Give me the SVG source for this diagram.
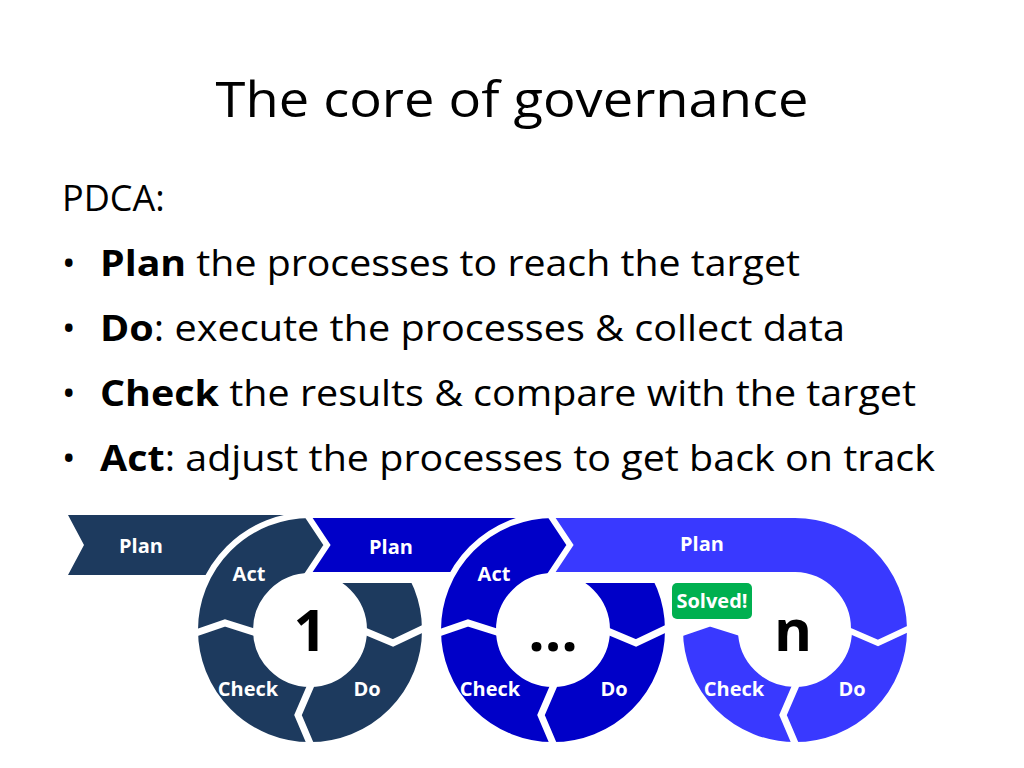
<svg xmlns="http://www.w3.org/2000/svg" width="1024" height="768" viewBox="0 0 1024 768">
<style>
.t{font-family:"Open Sans","Noto Sans",sans-serif;fill:#000}
.lb{font-family:"Open Sans","Noto Sans",sans-serif;font-weight:700;fill:#fff;font-size:20px;text-anchor:middle}
.big{font-family:"Open Sans","Noto Sans",sans-serif;font-weight:700;fill:#000;font-size:58px;text-anchor:middle}
.sep{fill:none;stroke:#fff;stroke-width:7}
.ws{stroke:#fff;stroke-width:6}
</style>
<rect width="1024" height="768" fill="#fff"/>
<text class="t" x="512" y="117" font-size="50" text-anchor="middle" textLength="593" lengthAdjust="spacingAndGlyphs">The core of governance</text>
<text class="t" x="62" y="211" font-size="36">PDCA:</text>
<g class="t" font-size="36">
<text x="62" y="276">•</text><text x="100" y="276" textLength="700" lengthAdjust="spacingAndGlyphs"><tspan font-weight="700">Plan</tspan> the processes to reach the target</text>
<text x="62" y="341">•</text><text x="100" y="341" textLength="745" lengthAdjust="spacingAndGlyphs"><tspan font-weight="700">Do</tspan>: execute the processes &amp; collect data</text>
<text x="62" y="406">•</text><text x="100" y="406" textLength="816" lengthAdjust="spacingAndGlyphs"><tspan font-weight="700">Check</tspan> the results &amp; compare with the target</text>
<text x="62" y="471">•</text><text x="100" y="471" textLength="835" lengthAdjust="spacingAndGlyphs"><tspan font-weight="700">Act</tspan>: adjust the processes to get back on track</text>
</g>
<!-- cycle 1 -->
<polygon points="68,515 310,515 310,575 68,575 84,545" fill="#1D3A5E"/>
<path class="ws" fill="#1D3A5E" fill-rule="evenodd" d="M195 630A115 115 0 1 0 425 630A115 115 0 1 0 195 630ZM256 630A54 54 0 1 1 364 630A54 54 0 1 1 256 630Z"/>
<polyline class="sep" points="187,636 225,623 260,634"/>
<polyline class="sep" points="315,755 298,715 314,678"/>
<polyline class="sep" points="435,623 393,643 355,627"/>
<rect x="315" y="575" width="122" height="8" fill="#fff"/>
<!-- cycle 2 -->
<polygon class="ws" points="307,515 553,515 553,575 307,575 327,545" fill="#0000C8"/>
<path class="ws" fill="#0000C8" fill-rule="evenodd" d="M438 630A115 115 0 1 0 668 630A115 115 0 1 0 438 630ZM499 630A54 54 0 1 1 607 630A54 54 0 1 1 499 630Z"/>
<polyline class="sep" points="430,636 468,623 503,634"/>
<polyline class="sep" points="558,755 541,715 557,678"/>
<polyline class="sep" points="678,623 636,643 598,627"/>
<rect x="558" y="575" width="110" height="8" fill="#fff"/>
<!-- cycle n -->
<path class="ws" fill="#3939FF" fill-rule="evenodd" d="M680 630A115 115 0 1 0 910 630A115 115 0 1 0 680 630ZM741 630A54 54 0 1 1 849 630A54 54 0 1 1 741 630Z"/>
<polyline class="sep" points="672,636 710,623 745,634"/>
<polyline class="sep" points="800,755 783,715 799,678"/>
<polygon points="674,636 710,623 745,634 795,630 795,505 674,505" fill="#fff"/>
<path class="ws" fill="#3939FF" d="M550 515L795 515A115 115 0 0 1 910 628L878 643L848 630A54 54 0 0 0 795 575L550 575L570 545Z"/>
<rect x="672" y="583" width="80" height="36" rx="5" fill="#00B050"/>
<text class="lb" x="712" y="608" font-size="19">Solved!</text>
<g>
<text class="lb" x="141" y="553">Plan</text>
<text class="lb" x="391" y="554">Plan</text>
<text class="lb" x="702" y="551">Plan</text>
<text class="lb" x="249" y="581">Act</text>
<text class="lb" x="494" y="581">Act</text>
<text class="lb" x="248" y="696">Check</text>
<text class="lb" x="490" y="696">Check</text>
<text class="lb" x="734" y="696">Check</text>
<text class="lb" x="367" y="696">Do</text>
<text class="lb" x="614" y="696">Do</text>
<text class="lb" x="852" y="696">Do</text>
<text class="big" x="310" y="651">1</text>
<text class="big" x="553" y="651">…</text>
<text class="big" x="793" y="651">n</text>
</g>
</svg>
